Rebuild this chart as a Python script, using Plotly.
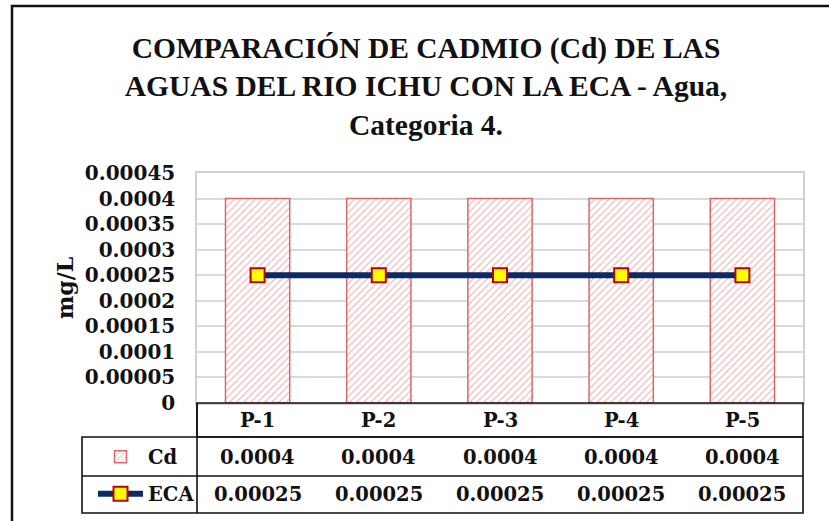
import plotly.graph_objects as go

categories = ["P-1", "P-2", "P-3", "P-4", "P-5"]
cd_values = [0.0004, 0.0004, 0.0004, 0.0004, 0.0004]
eca_values = [0.00025, 0.00025, 0.00025, 0.00025, 0.00025]
cd_labels = ["0.0004", "0.0004", "0.0004", "0.0004", "0.0004"]
eca_labels = ["0.00025", "0.00025", "0.00025", "0.00025", "0.00025"]
y_tickvals = [0, 0.00005, 0.0001, 0.00015, 0.0002, 0.00025, 0.0003, 0.00035, 0.0004, 0.00045]
y_ticktext = ["0", "0.00005", "0.0001", "0.00015", "0.0002", "0.00025", "0.0003", "0.00035", "0.0004", "0.00045"]

SERIF = "DejaVu Serif"
TFONT = dict(family=SERIF, size=19.5, color="#111111", weight="bold")
YFONT = dict(family=SERIF, size=20, color="#111111", weight="bold")

W, H = 829, 521
L, R, T, B = 197, 26, 173, 118
PW, PH = W - L - R, H - T - B

def px_x(px):
    return (px - L) / PW

def px_y(py):
    return (H - B - py) / PH

fig = go.Figure()
fig.add_trace(go.Bar(
    x=categories, y=cd_values, name="Cd", width=0.53,
    marker=dict(color="white",
                line=dict(color="#d66a6a", width=1.5),
                pattern=dict(shape="/", fgcolor="#e27373", bgcolor="white",
                             size=5, solidity=0.25)),
    legend="legend",
))
fig.add_trace(go.Scatter(
    x=categories, y=eca_values, name="ECA", mode="lines+markers",
    line=dict(color="#0e2a63", width=6),
    marker=dict(symbol="square", size=14, color="#ffff00",
                line=dict(color="#c00000", width=2)),
    legend="legend2",
))

shapes = []
line_k = dict(color="#111111", width=1.6)
# outer frame
shapes.append(dict(type="rect", xref="paper", yref="paper",
                   x0=px_x(12), x1=px_x(860), y0=px_y(560), y1=px_y(6),
                   line=dict(color="#111111", width=2.5), layer="below"))
# header row
shapes.append(dict(type="rect", xref="paper", yref="paper",
                   x0=0, x1=1, y0=px_y(437), y1=px_y(403), line=line_k))
# data rows
shapes.append(dict(type="rect", xref="paper", yref="paper",
                   x0=px_x(82), x1=1, y0=px_y(513), y1=px_y(437), line=line_k))
shapes.append(dict(type="line", xref="paper", yref="paper",
                   x0=px_x(82), x1=1, y0=px_y(476), y1=px_y(476), line=line_k))
shapes.append(dict(type="line", xref="paper", yref="paper",
                   x0=0, x1=0, y0=px_y(513), y1=px_y(403), line=line_k))

annotations = []
annotations.append(dict(text="mg/L", xref="paper", yref="paper",
                        x=px_x(65), y=px_y(288), textangle=-90, showarrow=False,
                        font=dict(family=SERIF, size=22, color="#111111", weight="bold"),
                        xanchor="center", yanchor="middle"))
for c, a, b in zip(categories, cd_labels, eca_labels):
    annotations.append(dict(text=c, xref="x", yref="paper", x=c, y=px_y(420),
                            showarrow=False, font=TFONT, yanchor="middle"))
    annotations.append(dict(text=a, xref="x", yref="paper", x=c, y=px_y(457),
                            showarrow=False, font=TFONT, yanchor="middle"))
    annotations.append(dict(text=b, xref="x", yref="paper", x=c, y=px_y(494),
                            showarrow=False, font=TFONT, yanchor="middle"))

fig.update_layout(
    width=W, height=H,
    margin=dict(l=L, r=R, t=T, b=B, autoexpand=False),
    paper_bgcolor="white", plot_bgcolor="white",
    title=dict(text="COMPARACIÓN DE CADMIO (Cd) DE LAS<br>AGUAS DEL RIO ICHU CON LA ECA - Agua,<br>Categoria 4.",
               x=426 / W, xanchor="center", yref="container", y=1 - 58 / H, yanchor="middle",
               font=dict(family="Liberation Sans Narrow", size=29.5, color="#111111", weight="bold")),
    xaxis=dict(type="category", range=[-0.5, 4.5], showticklabels=False,
               showgrid=False, zeroline=False, showline=True, linecolor="#d0d0d0",
               linewidth=1.5, mirror=True, fixedrange=True),
    yaxis=dict(range=[0, 0.00045], tickvals=y_tickvals, ticktext=y_ticktext,
               tickfont=YFONT, showgrid=True, gridcolor="#d9d9d9", gridwidth=1.5,
               zeroline=False, showline=True, linecolor="#d0d0d0", linewidth=1.5,
               mirror=True, ticks="", ticklabelstandoff=16),
    legend=dict(x=px_x(93), y=px_y(457), xanchor="left", yanchor="middle",
                bgcolor="rgba(0,0,0,0)", font=TFONT, itemwidth=45),
    legend2=dict(x=px_x(93), y=px_y(494), xanchor="left", yanchor="middle",
                 bgcolor="rgba(0,0,0,0)", font=TFONT, itemwidth=45),
    showlegend=True,
    shapes=shapes, annotations=annotations,
)

fig.write_html("out.html", config={"displayModeBar": False},
               post_script="document.body.style.margin='0';")
